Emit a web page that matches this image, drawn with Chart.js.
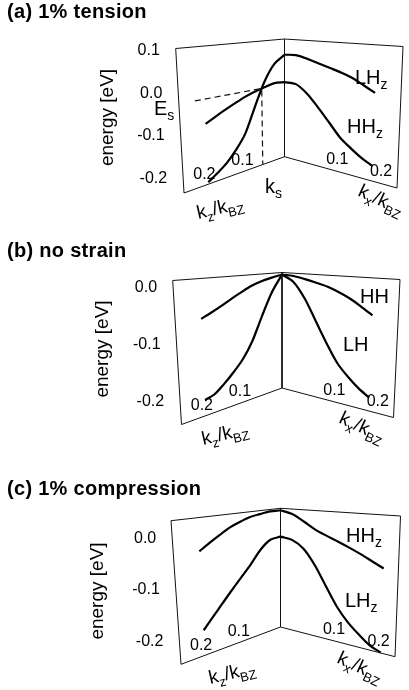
<!DOCTYPE html>
<html>
<head>
<meta charset="utf-8">
<title>valence bands under strain</title>
<script src="https://cdn.jsdelivr.net/npm/chart.js@4/dist/chart.umd.min.js"></script>
<style>
  html, body { margin: 0; padding: 0; background: #fff; }
  canvas { position: absolute; left: 0; }
</style>
</head>
<body>
<canvas id="panelA" width="409" height="230" style="top:0px"></canvas>
<canvas id="panelB" width="409" height="230" style="top:230px"></canvas>
<canvas id="panelC" width="409" height="230" style="top:460px"></canvas>
<script>
// wave vector samples, k / k_BZ
const kSteps = [0, 0.025, 0.05, 0.075, 0.1, 0.125, 0.15, 0.175, 0.2];
const kStepsLong = [0, 0.025, 0.05, 0.075, 0.1, 0.125, 0.15, 0.175, 0.2, 0.225];
const kTicks = [0.1, 0.2];
const kEndZ = 0.264, kEndX = 0.257;   // k at the outer edges of the box

// (a) 1% tension, energy in eV
const tenLHz_kz = [0.060, 0.0376, -0.0078, -0.0717, -0.1351, -0.1714, -0.1976, -0.2152, -0.2298];
const tenHHz_kz = [-0.019, -0.0167, -0.0233, -0.0302, -0.0394, -0.0507, -0.0621, -0.0739, -0.0857];
const tenLHz_kx = [0.060, 0.0619, 0.0544, 0.0444, 0.0354, 0.0266, 0.0156, 0.0004, -0.0146];
const tenHHz_kx = [-0.019, -0.0203, -0.0424, -0.0757, -0.1103, -0.1438, -0.1658, -0.1842, -0.1971];
const tenKs = 0.057, tenEs = -0.025, tenDashFrom = 0.224;
const tenTicks = [0.1, 0.0, -0.1, -0.2];

// (b) no strain
const noHH_kz = [0.007, 0.0022, -0.0036, -0.0114, -0.0220, -0.0328, -0.0439, -0.0536, -0.0621];
const noLH_kz = [0.007, -0.0292, -0.0762, -0.1231, -0.1545, -0.1753, -0.1922, -0.2056, -0.2103];
const noHH_kx = [0.007, 0.0055, 0.0006, -0.0053, -0.0117, -0.0210, -0.0317, -0.0450, -0.0589];
const noLH_kx = [0.007, -0.0072, -0.0401, -0.0839, -0.1256, -0.1611, -0.1837, -0.2013, -0.2140];
const noTicks = [0.0, -0.1, -0.2];

// (c) 1% compression
const comHHz_kz = [0.030, 0.0302, 0.0267, 0.0226, 0.0146, 0.0053, -0.0076, -0.0205, -0.0335];
const comLHz_kz = [-0.032, -0.0352, -0.0542, -0.0825, -0.1065, -0.1291, -0.1515, -0.1729, -0.1936];
const comHHz_kx = [0.030, 0.0231, 0.0081, -0.0078, -0.0193, -0.0294, -0.0398, -0.0507, -0.0623, -0.0735];
const comLHz_kx = [-0.032, -0.0365, -0.0538, -0.0874, -0.1299, -0.1695, -0.1976, -0.2178, -0.2345, -0.2435];
const comTicks = [0.0, -0.1, -0.2];

const FONT = '"Liberation Sans", Arial, Helvetica, sans-serif';

// layout of each panel (page pixels): the two faces of the box, text anchors
const panelSetup = {
  panelA: {
    top: 0, title: '(a) 1% tension', titleY: 18,
    eTop: 0.1055, eBottom: -0.2345, eTicks: tenTicks,
    apexTop: [284.5, 39], apexBottom: [284.5, 156.7],
    zTop: [175.7, 48.5], zBottom: [184, 193],
    xTop: [403, 46.5], xBottom: [397, 188],
    yTitle: [107.5, 117.5], kzTitle: [220, 208], kxTitle: [381, 200],
    curves: [
      { dir: -1, k: kSteps, e: tenLHz_kz }, { dir: -1, k: kSteps, e: tenHHz_kz },
      { dir: 1, k: kSteps, e: tenLHz_kx }, { dir: 1, k: kSteps, e: tenHHz_kx }
    ],
    guide: [[-tenDashFrom, tenEs], [-tenKs, tenEs], [-tenKs, -0.2345]],
    names: [
      { parts: [['LH', 0], ['z', 1]], at: [355, 84] },
      { parts: [['HH', 0], ['z', 1]], at: [347, 133] },
      { parts: [['E', 0], ['s', 1]], at: [154, 115] },
      { parts: [['k', 0], ['s', 1]], at: [265, 193] }
    ]
  },
  panelB: {
    top: 230, title: '(b) no strain', titleY: 256.5,
    eTop: 0.0115, eBottom: -0.239, eTicks: noTicks,
    apexTop: [282, 272.5], apexBottom: [282, 388],
    zTop: [172.7, 280.5], zBottom: [181.5, 424.5],
    xTop: [400, 279.5], xBottom: [393.5, 417.5],
    yTitle: [102.5, 349], kzTitle: [225, 434], kxTitle: [362, 427],
    curves: [
      { dir: -1, k: kSteps, e: noHH_kz }, { dir: -1, k: kSteps, e: noLH_kz },
      { dir: 1, k: kSteps, e: noHH_kx }, { dir: 1, k: kSteps, e: noLH_kx }
    ],
    names: [
      { parts: [['HH', 0]], at: [360, 303] },
      { parts: [['LH', 0]], at: [343, 351] }
    ]
  },
  panelC: {
    top: 460, title: '(c) 1% compression', titleY: 495,
    eTop: 0.0346, eBottom: -0.2443, eTicks: comTicks,
    apexTop: [280.5, 508.3], apexBottom: [280.5, 627],
    zTop: [171, 520.7], zBottom: [181, 664.3],
    xTop: [400.5, 516], xBottom: [395, 656.7],
    yTitle: [97.5, 591], kzTitle: [232, 673], kxTitle: [360, 667],
    curves: [
      { dir: -1, k: kSteps, e: comHHz_kz }, { dir: -1, k: kSteps, e: comLHz_kz },
      { dir: 1, k: kStepsLong, e: comHHz_kx }, { dir: 1, k: kStepsLong, e: comLHz_kx }
    ],
    names: [
      { parts: [['HH', 0], ['z', 1]], at: [346, 542] },
      { parts: [['LH', 0], ['z', 1]], at: [345, 607] }
    ]
  }
};

// map (signed k, E) onto one of the two faces of the box
function project(P, k, e) {
  const v = (P.eTop - e) / (P.eTop - P.eBottom);
  const left = k < 0;
  const u = left ? -k / kEndZ : k / kEndX;
  const ot = left ? P.zTop : P.xTop, ob = left ? P.zBottom : P.xBottom;
  const tx = P.apexTop[0] + (ot[0] - P.apexTop[0]) * u, ty = P.apexTop[1] + (ot[1] - P.apexTop[1]) * u;
  const bx = P.apexBottom[0] + (ob[0] - P.apexBottom[0]) * u, by = P.apexBottom[1] + (ob[1] - P.apexBottom[1]) * u;
  return [tx + (bx - tx) * v, ty + (by - ty) * v];
}

function partsWidth(ctx, parts, size) {
  let w = 0;
  parts.forEach(([t, sub]) => {
    ctx.font = (sub ? Math.round(size * 0.68) : size) + 'px ' + FONT;
    w += ctx.measureText(t).width;
  });
  return w;
}
function drawParts(ctx, parts, x, y, size) {
  parts.forEach(([t, sub]) => {
    ctx.font = (sub ? Math.round(size * 0.68) : size) + 'px ' + FONT;
    ctx.fillText(t, x, y + (sub ? size * 0.27 : 0));
    x += ctx.measureText(t).width;
  });
}
function drawRotated(ctx, parts, at, angle, size) {
  ctx.save();
  ctx.translate(at[0], at[1]);
  ctx.rotate(angle * Math.PI / 180);
  ctx.textAlign = 'left';
  ctx.textBaseline = 'alphabetic';
  drawParts(ctx, parts, -partsWidth(ctx, parts, size) / 2, size * 0.3, size);
  ctx.restore();
}

const boxView = {
  id: 'boxView',
  afterDatasetsUpdate(chart) {
    const P = panelSetup[chart.canvas.id];
    chart.data.datasets.forEach((ds, i) => {
      chart.getDatasetMeta(i).data.forEach((pt, j) => {
        const raw = ds.data[j];
        const [X, Y] = project(P, raw.x, raw.y);
        pt.x = X;
        pt.y = Y - P.top;
      });
    });
  },
  afterDraw(chart) {
    const P = panelSetup[chart.canvas.id];
    const ctx = chart.ctx;
    ctx.save();
    ctx.translate(0, -P.top);
    ctx.fillStyle = '#000';

    ctx.font = 'bold 20px ' + FONT;
    ctx.letterSpacing = '0.3px';
    ctx.textAlign = 'left';
    ctx.textBaseline = 'alphabetic';
    ctx.fillText(P.title, 7, P.titleY);
    ctx.letterSpacing = '0px';

    ctx.font = '16px ' + FONT;
    ctx.textAlign = 'right';
    ctx.textBaseline = 'middle';
    P.eTicks.forEach(e => {
      const [x, y] = project(P, -kEndZ, e);
      ctx.fillText(e.toFixed(1), x - 16, y);
    });

    ctx.textAlign = 'center';
    kTicks.forEach(k => {
      const [lx, ly] = project(P, -k, P.eBottom);
      ctx.fillText(k.toFixed(1), lx - 4, ly - 10);
      const [rx, ry] = project(P, k, P.eBottom);
      ctx.fillText(k.toFixed(1), rx + 9, ry - 9);
    });

    ctx.save();
    ctx.translate(P.yTitle[0], P.yTitle[1]);
    ctx.rotate(-Math.PI / 2);
    ctx.font = '19px ' + FONT;
    ctx.textAlign = 'center';
    ctx.fillText('energy [eV]', 0, 0);
    ctx.restore();

    drawRotated(ctx, [['k', 0], ['z', 1], ['/k', 0], ['BZ', 1]], P.kzTitle, -13, 19);
    drawRotated(ctx, [['k', 0], ['x', 1], ['/k', 0], ['BZ', 1]], P.kxTitle, 25, 19);

    ctx.textAlign = 'left';
    ctx.textBaseline = 'alphabetic';
    P.names.forEach(n => drawParts(ctx, n.parts, n.at[0], n.at[1], 20));
    ctx.restore();
  }
};

function pathSet(points, width, dash) {
  return {
    data: points.map(([x, y]) => ({ x: x, y: y })),
    showLine: true, borderColor: '#111', borderWidth: width, borderDash: dash || [],
    tension: 0, pointRadius: 0, clip: false
  };
}

Object.keys(panelSetup).forEach(id => {
  const P = panelSetup[id];
  const datasets = [
    pathSet([[-kEndZ, P.eTop], [0, P.eTop], [kEndX, P.eTop], [kEndX, P.eBottom],
             [0, P.eBottom], [-kEndZ, P.eBottom], [-kEndZ, P.eTop]], 1),
    pathSet([[0, P.eTop], [0, P.eBottom]], 1)
  ];
  if (P.guide) datasets.push(pathSet(P.guide, 1.2, [6, 4]));
  P.curves.forEach(c => datasets.push({
    data: c.k.map((k, i) => ({ x: c.dir * k, y: c.e[i] })),
    showLine: true, borderColor: '#000', borderWidth: 2.2,
    tension: 0.3, pointRadius: 0, clip: false
  }));

  new Chart(document.getElementById(id), {
    type: 'scatter',
    data: { datasets: datasets },
    options: {
      responsive: false,
      animation: false,
      events: [],
      layout: { padding: 0 },
      scales: {
        x: { type: 'linear', min: -kEndZ, max: kEndX, display: false },
        y: { type: 'linear', min: P.eBottom, max: P.eTop, display: false }
      },
      plugins: { legend: { display: false }, tooltip: { enabled: false } }
    },
    plugins: [boxView]
  });
});
</script>
</body>
</html>
